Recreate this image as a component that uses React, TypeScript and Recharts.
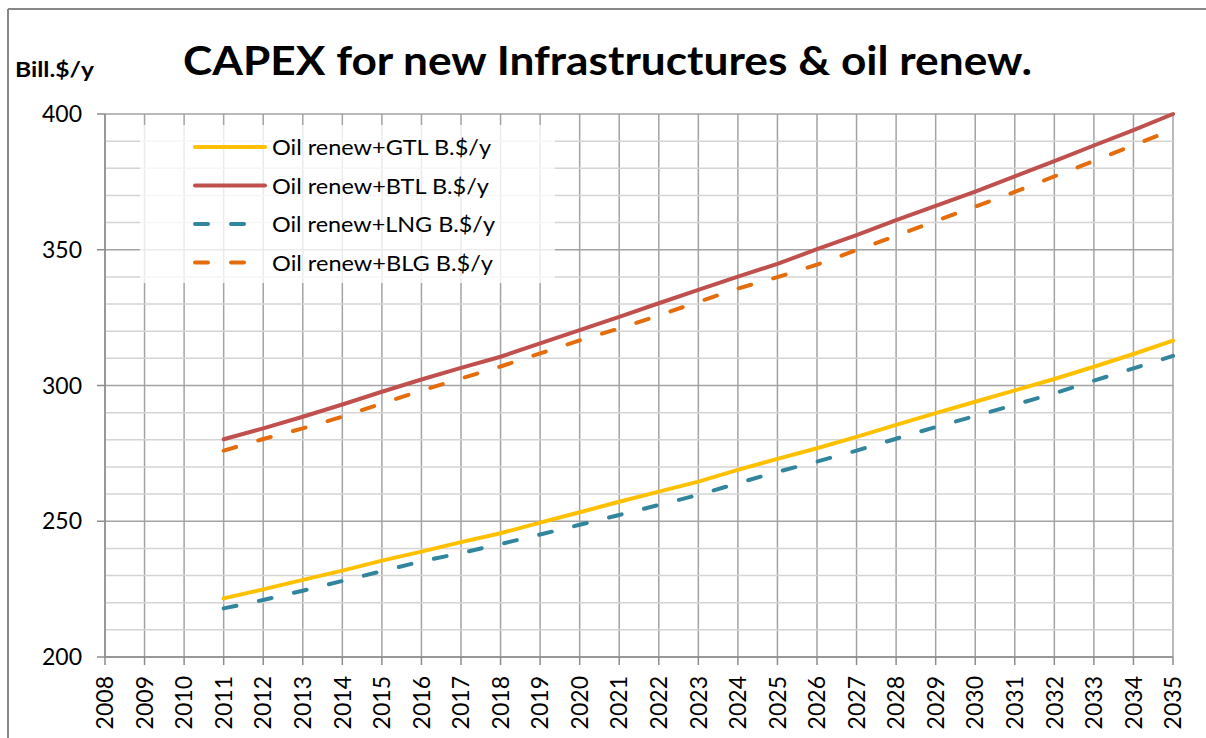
import React from "react";
import { LineChart, Line, XAxis, YAxis, CartesianGrid, ReferenceLine, Legend } from "recharts";

// values, billion $ per year
const years = [
  2011, 2012, 2013, 2014, 2015, 2016, 2017, 2018, 2019, 2020, 2021, 2022, 2023,
  2024, 2025, 2026, 2027, 2028, 2029, 2030, 2031, 2032, 2033, 2034, 2035,
];
const gtl = [
  221.6, 224.9, 228.4, 231.8, 235.5, 238.8, 242.3, 245.6, 249.5, 253.3, 257.2, 260.9, 264.6,
  268.9, 273.0, 276.9, 281.1, 285.5, 289.8, 294.0, 298.2, 302.4, 306.9, 311.6, 316.5,
];
const btl = [
  280.2, 284.2, 288.5, 293.0, 297.7, 302.2, 306.5, 310.6, 315.5, 320.4, 325.3, 330.3, 335.2,
  340.1, 344.8, 350.2, 355.4, 360.9, 366.2, 371.4, 377.0, 382.6, 388.4, 394.1, 400.0,
];
const lng = [
  217.9, 221.0, 224.4, 228.0, 231.6, 235.2, 238.3, 241.6, 245.1, 248.7, 252.3, 256.0, 259.7,
  264.0, 268.2, 272.0, 276.0, 280.4, 284.7, 288.8, 292.9, 297.1, 301.8, 306.3, 310.9,
];
const blg = [
  276.0, 280.3, 284.2, 288.5, 293.4, 298.1, 302.6, 307.0, 311.8, 316.6, 321.0, 325.8, 330.8,
  335.7, 339.9, 344.5, 349.9, 355.1, 360.6, 365.9, 371.3, 377.0, 382.7, 388.5, 394.2,
];

const xTicks = [
  2008, 2009, 2010, 2011, 2012, 2013, 2014, 2015, 2016, 2017, 2018, 2019, 2020, 2021,
  2022, 2023, 2024, 2025, 2026, 2027, 2028, 2029, 2030, 2031, 2032, 2033, 2034, 2035,
];
const yTicks = [200, 250, 300, 350, 400];
const yMinor = [210, 220, 230, 240, 260, 270, 280, 290, 310, 320, 330, 340, 360, 370, 380, 390];

const chartData = years.map((year, i) => ({
  year,
  gtl: gtl[i],
  btl: btl[i],
  lng: lng[i],
  blg: blg[i],
}));

const FONT = "Lato, 'Open Sans', sans-serif";
const DASH = "13 23";

const series = [
  { key: "gtl", name: "Oil renew+GTL B.$/y", color: "#FFC000", dash: undefined, textW: 219 },
  { key: "btl", name: "Oil renew+BTL B.$/y", color: "#C0504D", dash: undefined, textW: 217 },
  { key: "lng", name: "Oil renew+LNG B.$/y", color: "#31859C", dash: DASH, textW: 223 },
  { key: "blg", name: "Oil renew+BLG B.$/y", color: "#E46C0A", dash: DASH, textW: 221 },
];

function YearTick({ x, y, payload }: any) {
  const ty = y + 9;
  return (
    <text
      x={x}
      y={ty}
      dy="0.36em"
      textAnchor="end"
      transform={`rotate(-90, ${x}, ${ty})`}
      fontSize={23}
      fontFamily={FONT}
      fill="#000"
    >
      {payload.value}
    </text>
  );
}

function LegendBox() {
  return (
    <div
      style={{
        width: "100%",
        height: "100%",
        background: "rgba(255,255,255,0.78)",
      }}
    >
      <svg width={415} height={158}>
        {series.map((s, i) => {
          const cy = 22 + i * 38.5;
          return (
            <g key={s.key}>
              <line
                x1={55}
                x2={125}
                y1={cy}
                y2={cy}
                stroke={s.color}
                strokeWidth={4}
                strokeLinecap="round"
                strokeDasharray={s.dash}
              />
              <text
                x={132}
                y={cy + 8}
                fontSize={22}
                fontFamily={FONT}
                fill="#000"
                textLength={s.textW}
                lengthAdjust="spacingAndGlyphs"
              >
                {s.name}
              </text>
            </g>
          );
        })}
      </svg>
    </div>
  );
}

export default function App() {
  return (
    <div
      style={{
        position: "absolute",
        left: 0,
        top: 0,
        width: 1206,
        height: 738,
        background: "#fff",
        overflow: "hidden",
      }}
    >
      <LineChart
        width={1206}
        height={738}
        data={chartData}
        margin={{ top: 114, right: 33, bottom: 21, left: 45 }}
      >
        {yMinor.map((v) => (
          <ReferenceLine key={v} y={v} stroke="#d4d4d4" strokeWidth={1.5} />
        ))}
        <CartesianGrid stroke="#a3a3a3" strokeWidth={1.5} />
        <XAxis
          dataKey="year"
          type="number"
          domain={[2008, 2035]}
          ticks={xTicks}
          interval={0}
          height={60}
          tickSize={8}
          stroke="#8c8c8c"
          strokeWidth={1.5}
          tick={<YearTick />}
        />
        <YAxis
          domain={[200, 400]}
          ticks={yTicks}
          width={60}
          tickSize={8}
          tickMargin={15}
          stroke="#8c8c8c"
          strokeWidth={1.5}
          tick={{ fontSize: 23, fontFamily: FONT, fill: "#000" }}
        />
        {series.map((s) => (
          <Line
            key={s.key}
            type="linear"
            dataKey={s.key}
            name={s.name}
            stroke={s.color}
            strokeWidth={4}
            strokeDasharray={s.dash}
            strokeLinecap="round"
            dot={false}
            activeDot={false}
            isAnimationActive={false}
          />
        ))}
        <Legend
          layout="vertical"
          align="center"
          verticalAlign="middle"
          content={<LegendBox />}
          wrapperStyle={{ left: 140, top: 125, width: 415, height: 158 }}
        />
      </LineChart>
      <svg
        width={1206}
        height={738}
        style={{ position: "absolute", left: 0, top: 0, pointerEvents: "none" }}
      >
        <line x1={8} y1={9} x2={1206} y2={9} stroke="#878787" strokeWidth={2} />
        <line x1={8} y1={9} x2={8} y2={738} stroke="#878787" strokeWidth={2} />
        <text
          x={183}
          y={75}
          fontSize={41}
          fontWeight="bold"
          fontFamily={FONT}
          fill="#000"
          textLength={849}
          lengthAdjust="spacingAndGlyphs"
        >
          CAPEX for new Infrastructures &amp; oil renew.
        </text>
        <text
          x={15}
          y={77}
          fontSize={20}
          fontWeight="bold"
          fontFamily={FONT}
          fill="#000"
          textLength={79}
          lengthAdjust="spacingAndGlyphs"
        >
          Bill.$/y
        </text>
      </svg>
    </div>
  );
}
